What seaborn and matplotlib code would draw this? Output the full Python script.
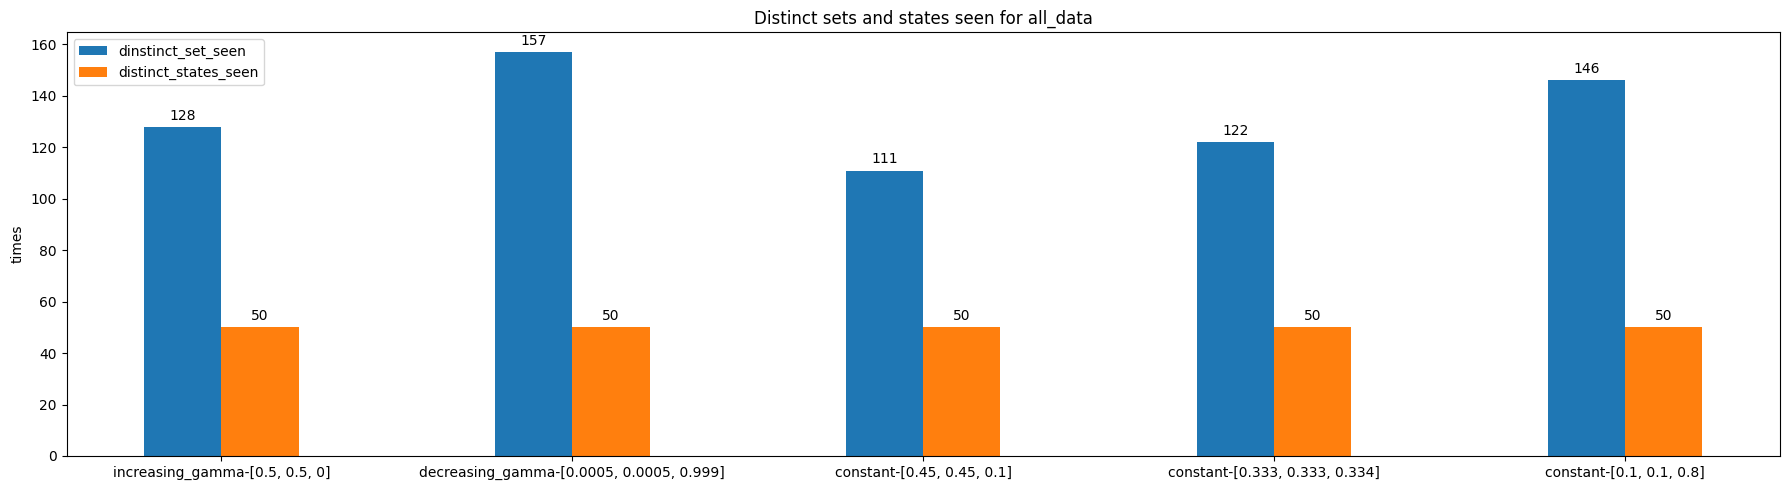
import pandas as pd
import matplotlib.pyplot as plt
import seaborn as sns

# valores
configuracoes = [
    "increasing_gamma-[0.5, 0.5, 0]",
    "decreasing_gamma-[0.0005, 0.0005, 0.999]",
    "constant-[0.45, 0.45, 0.1]",
    "constant-[0.333, 0.333, 0.334]",
    "constant-[0.1, 0.1, 0.8]",
]
sets_vistos = [128, 157, 111, 122, 146]
estados_vistos = [50, 50, 50, 50, 50]
series = ["dinstinct_set_seen", "distinct_states_seen"]

df = pd.DataFrame({
    "config": configuracoes * 2,
    "serie": [series[0]] * len(configuracoes) + [series[1]] * len(configuracoes),
    "valor": sets_vistos + estados_vistos,
})

fig, ax = plt.subplots(figsize=(17.9, 4.9), dpi=100)
fig.subplots_adjust(left=0.0372, right=0.9944, bottom=0.0694, top=0.9347)

sns.barplot(
    data=df, x="config", y="valor", hue="serie", hue_order=series,
    palette=["#1f77b4", "#ff7f0e"], saturation=1, width=0.44,
    errorbar=None, ax=ax,
)

for container in ax.containers:
    ax.bar_label(container, padding=3)

ax.set_xlim(-0.441, 4.441)
ax.set_title("Distinct sets and states seen for all_data")
ax.set_xlabel("")
ax.set_ylabel("times")
ax.legend(loc="upper left", title=None)

fig.savefig("out.png")
